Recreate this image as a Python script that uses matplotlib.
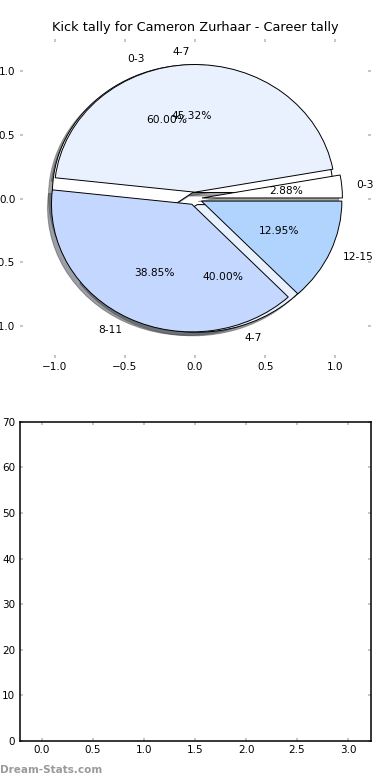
import matplotlib
matplotlib.use("Agg")
import matplotlib.pyplot as plt

# Career tally (outer pie drawn on top)
career_labels = ['0-3', '4-7', '8-11', '12-15']
career_values = [2.88, 45.32, 38.85, 12.95]
# Second tally (drawn underneath)
second_labels = ['0-3', '4-7']
second_values = [60.0, 40.0]

title = 'Kick tally for Cameron Zurhaar - Career tally'
pie_ticks = [-1.0, -0.5, 0.0, 0.5, 1.0]
bar_xticks = [0.0, 0.5, 1.0, 1.5, 2.0, 2.5, 3.0]
bar_yticks = [0, 10, 20, 30, 40, 50, 60, 70]

colors = ['#FFFFFF', '#E9F0FE', '#C4D7FE', '#B1D4FE']
FS = 7.7

plt.rcParams['font.family'] = ['DejaVu Sans']
fig, (ax1, ax2) = plt.subplots(2, 1, figsize=(3.9, 7.8), dpi=100)
fig.subplots_adjust(left=0.05, right=0.95, top=0.95, bottom=0.05, hspace=0.2)

wp = dict(edgecolor='black', linewidth=0.7)
tp = dict(fontsize=FS, color='black')
ax1.pie(second_values, labels=second_labels, explode=[0.05] * len(second_values),
        colors=colors[:len(second_values)], autopct='%1.2f%%', shadow=True,
        startangle=0, wedgeprops=wp, textprops=tp)
ax1.pie(career_values, labels=career_labels, explode=[0.05] * len(career_values),
        colors=colors[:len(career_values)], autopct='%1.2f%%', shadow=True,
        startangle=0, wedgeprops=wp, textprops=tp)
ax1.set_aspect('auto')
ax1.set_frame_on(False)
ax1.set_xlim(-1.25, 1.25)
ax1.set_ylim(-1.25, 1.25)
ax1.set_xticks(pie_ticks)
ax1.set_yticks(pie_ticks)
ax1.set_title(title, fontsize=9.3, pad=6)

ax2.set_xlim(-0.22, 3.22)
ax2.set_ylim(0, 70)
ax2.set_xticks(bar_xticks)
ax2.set_yticks(bar_yticks)
for s in ax2.spines.values():
    s.set_linewidth(1.1)

for ax in (ax1, ax2):
    ax.tick_params(direction='in', length=2.5, width=1.3, color='#c0c0c0',
                   labelsize=7.5, labelcolor='black', pad=3,
                   top=True, right=True)

fig.text(0.0, 0.006, 'Dream-Stats.com', color='#9a9a9a', fontsize=7.5,
         fontweight='bold', ha='left', va='bottom')

fig.savefig('out.png', dpi=100)
